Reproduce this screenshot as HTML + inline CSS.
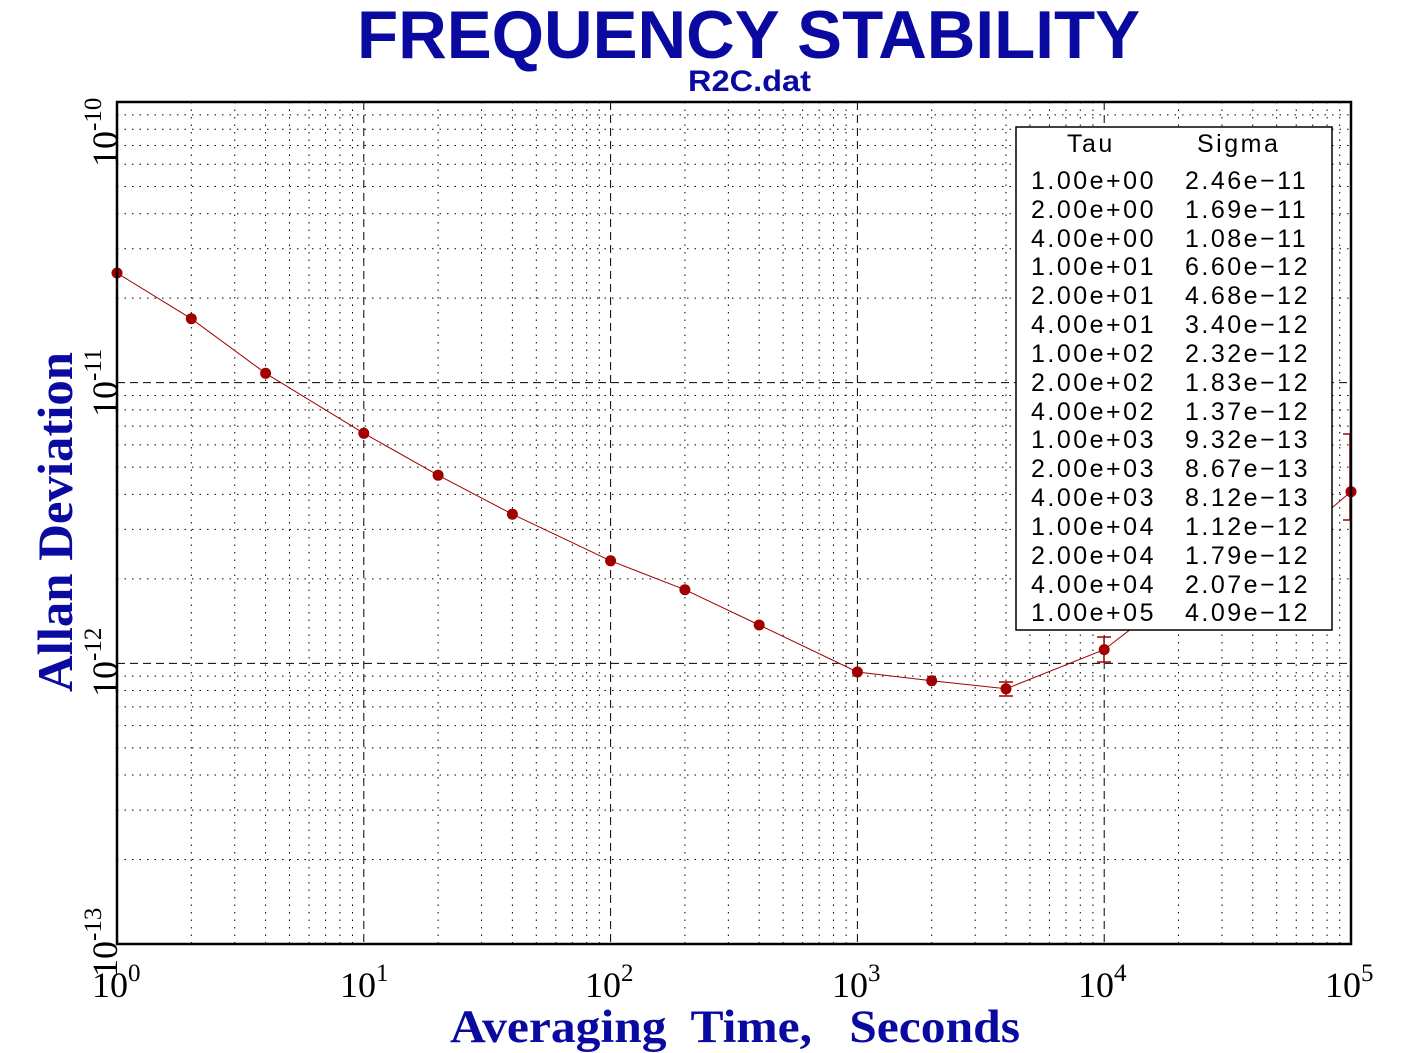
<!DOCTYPE html>
<html><head><meta charset="utf-8"><style>
html,body{margin:0;padding:0;background:#fff;}
svg{display:block;}
</style></head><body>
<svg id="s" width="1411" height="1053" xmlns="http://www.w3.org/2000/svg">
<rect width="1411" height="1053" fill="#fff"/>
<g id="grid"></g>
<polyline fill="none" stroke="#a00000" stroke-width="1" points="117,273 191.3,318.7 265.6,373.3 363.8,433.3 438.1,475.2 512.4,514.2 610.6,560.8 684.9,589.7 759.2,625 857.4,672 931.7,680.8 1006,688.8 1104.2,649.6 1178.5,592.4 1252.8,574.7 1351,491.7"/>
<g stroke="#a00000" stroke-width="1.5">
<line x1="1006" y1="682" x2="1006" y2="696"/><line x1="999" y1="682" x2="1013" y2="682"/><line x1="999" y1="696" x2="1013" y2="696"/>
<line x1="1104" y1="637" x2="1104" y2="662"/><line x1="1097" y1="637" x2="1111" y2="637"/><line x1="1097" y1="662" x2="1111" y2="662"/>
<line x1="1350" y1="434" x2="1350" y2="520"/><line x1="1343" y1="434" x2="1351" y2="434"/><line x1="1343" y1="520" x2="1351" y2="520"/>
</g>
<g fill="#a00000">
<circle cx="117" cy="273" r="5.5"/><circle cx="191.3" cy="318.7" r="5.5"/><circle cx="265.6" cy="373.3" r="5.5"/><circle cx="363.8" cy="433.3" r="5.5"/><circle cx="438.1" cy="475.2" r="5.5"/><circle cx="512.4" cy="514.2" r="5.5"/><circle cx="610.6" cy="560.8" r="5.5"/><circle cx="684.9" cy="589.7" r="5.5"/><circle cx="759.2" cy="625" r="5.5"/><circle cx="857.4" cy="672" r="5.5"/><circle cx="931.7" cy="680.8" r="5.5"/><circle cx="1006" cy="688.8" r="5.5"/><circle cx="1104.2" cy="649.6" r="5.5"/><circle cx="1351" cy="491.7" r="5.5"/>
</g>
<rect x="117" y="102" width="1234" height="842" fill="none" stroke="#000" stroke-width="2.5"/>
<rect x="1016" y="127" width="316" height="503" fill="#fff" stroke="#000" stroke-width="1.5"/>
<g font-family="Liberation Sans, sans-serif" font-size="25" font-weight="300" fill="#000" style="letter-spacing:2.5px">
<text x="1067" y="152">Tau</text><text x="1197" y="152">Sigma</text>
<text x="1031" y="189">1.00e+00</text><text x="1185" y="189">2.46e−11</text>
<text x="1031" y="218">2.00e+00</text><text x="1185" y="218">1.69e−11</text>
<text x="1031" y="247">4.00e+00</text><text x="1185" y="247">1.08e−11</text>
<text x="1031" y="275">1.00e+01</text><text x="1185" y="275">6.60e−12</text>
<text x="1031" y="304">2.00e+01</text><text x="1185" y="304">4.68e−12</text>
<text x="1031" y="333">4.00e+01</text><text x="1185" y="333">3.40e−12</text>
<text x="1031" y="362">1.00e+02</text><text x="1185" y="362">2.32e−12</text>
<text x="1031" y="391">2.00e+02</text><text x="1185" y="391">1.83e−12</text>
<text x="1031" y="420">4.00e+02</text><text x="1185" y="420">1.37e−12</text>
<text x="1031" y="448">1.00e+03</text><text x="1185" y="448">9.32e−13</text>
<text x="1031" y="477">2.00e+03</text><text x="1185" y="477">8.67e−13</text>
<text x="1031" y="506">4.00e+03</text><text x="1185" y="506">8.12e−13</text>
<text x="1031" y="535">1.00e+04</text><text x="1185" y="535">1.12e−12</text>
<text x="1031" y="564">2.00e+04</text><text x="1185" y="564">1.79e−12</text>
<text x="1031" y="593">4.00e+04</text><text x="1185" y="593">2.07e−12</text>
<text x="1031" y="621">1.00e+05</text><text x="1185" y="621">4.09e−12</text>
</g>
<text x="357" y="58" textLength="783" lengthAdjust="spacingAndGlyphs" font-family="Liberation Sans, sans-serif" font-weight="bold" font-size="68" fill="#0a0aa0">FREQUENCY STABILITY</text>
<text x="688" y="91" textLength="123" lengthAdjust="spacingAndGlyphs" font-family="Liberation Sans, sans-serif" font-weight="bold" font-size="30" fill="#0a0aa0">R2C.dat</text>
<text x="450" y="1042" textLength="570" lengthAdjust="spacingAndGlyphs" font-family="Liberation Serif, serif" font-weight="bold" font-size="47" fill="#0a0aa0" xml:space="preserve">Averaging  Time,   Seconds</text>
<text transform="translate(72,692) rotate(-90)" textLength="340" lengthAdjust="spacingAndGlyphs" font-family="Liberation Serif, serif" font-weight="bold" font-size="50" fill="#0a0aa0">Allan Deviation</text>
<g font-family="Liberation Serif, serif" font-size="36" fill="#000">
<text x="92" y="997">10<tspan dy="-16" font-size="25">0</tspan></text>
<text x="340" y="997">10<tspan dy="-16" font-size="25">1</tspan></text>
<text x="585" y="997">10<tspan dy="-16" font-size="25">2</tspan></text>
<text x="832" y="997">10<tspan dy="-16" font-size="25">3</tspan></text>
<text x="1078" y="997">10<tspan dy="-16" font-size="25">4</tspan></text>
<text x="1325" y="997">10<tspan dy="-16" font-size="25">5</tspan></text>
</g>
<g font-family="Liberation Serif, serif" font-size="36" fill="#000">
<text transform="translate(117,167) rotate(-90)">10<tspan dy="-16" font-size="25">-10</tspan></text>
<text transform="translate(117,417) rotate(-90)">10<tspan dy="-16" font-size="25">-11</tspan></text>
<text transform="translate(117,697) rotate(-90)">10<tspan dy="-16" font-size="25">-12</tspan></text>
<text transform="translate(117,977) rotate(-90)">10<tspan dy="-16" font-size="25">-13</tspan></text>
</g>
</svg>
<script>
(function(){
var g=document.getElementById('grid'),ns='http://www.w3.org/2000/svg';
function L(x1,y1,x2,y2,d){var l=document.createElementNS(ns,'line');l.setAttribute('x1',x1);l.setAttribute('y1',y1);l.setAttribute('x2',x2);l.setAttribute('y2',y2);l.setAttribute('stroke','#000');l.setAttribute('stroke-width','1');l.setAttribute('stroke-dasharray',d);g.appendChild(l);}
var X0=117,DX=246.8,Y0=102,DY=280.67;
for(var d=0;d<5;d++){for(var k=1;k<10;k++){var x=X0+DX*(d+Math.log10(k));if(k==1){if(d>0)L(x,102,x,944,'8,5');}else L(x,102,x,944,'1.5,6');}}
for(var d=0;d<3;d++){for(var k=1;k<10;k++){var y=Y0+DY*(d+1-Math.log10(k));if(k==1){L(117,y,1351,y,'8,5');}else L(117,y,1351,y,'1.5,6');}}
})();
</script>
</body></html>
